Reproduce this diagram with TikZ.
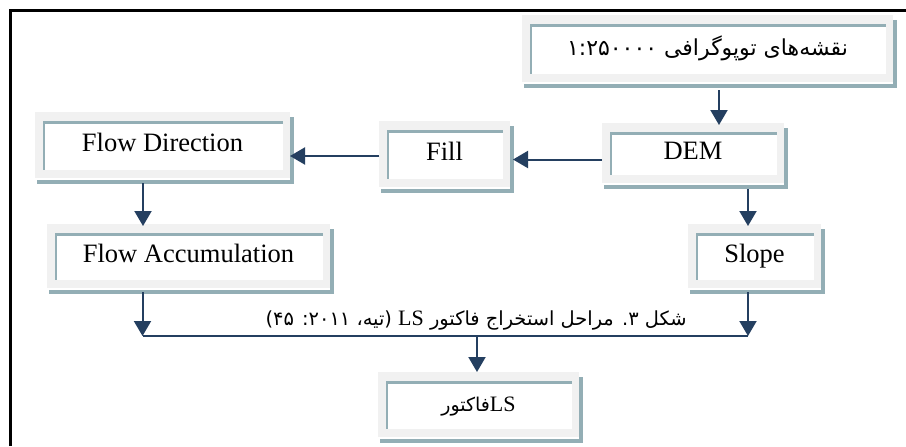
\documentclass[tikz,border=0pt]{standalone}
\usepackage{fontspec}
\setmainfont{Liberation Serif}
\newfontfamily\arabicfont[Script=Arabic]{DejaVu Sans}
\TeXXeTstate=1
\usetikzlibrary{arrows.meta,calc}
\pgfdeclarelayer{background}
\pgfsetlayers{background,main}
\definecolor{frameGray}{HTML}{F1F1F1}
\definecolor{shadeTeal}{HTML}{93AEB5}
\definecolor{arrowNavy}{HTML}{243F60}
\tikzset{
  framebox/.style={rectangle, fill=frameGray, inner sep=0pt, outer sep=0pt,
    font=\fontsize{13.25pt}{15pt}\selectfont, text height=0.68em, text depth=0pt,
    path picture={
      \fill[white] ([xshift=4pt,yshift=-4.5pt]path picture bounding box.north west)
        rectangle ([xshift=-3.5pt,yshift=4pt]path picture bounding box.south east);
      \fill[shadeTeal] ([xshift=4pt,yshift=-4.5pt]path picture bounding box.north west)
        rectangle ([xshift=-3.5pt,yshift=-6pt]path picture bounding box.north east);
      \fill[shadeTeal] ([xshift=4pt,yshift=-4.5pt]path picture bounding box.north west)
        rectangle ([xshift=5pt,yshift=4pt]path picture bounding box.south west);
    }},
  arr/.style={draw=arrowNavy, line width=1pt, -{Triangle[width=8.5pt,length=7.5pt]}, fill=arrowNavy},
  plainline/.style={draw=arrowNavy, line width=1pt},
  caption/.style={inner sep=0pt, font=\fontsize{9.7pt}{12pt}\selectfont}
}
\begin{document}
\begin{tikzpicture}[x=0.5pt,y=-0.5pt]
\useasboundingbox (0,0) rectangle (906,446);

\node[framebox, minimum width=185.5pt, minimum height=33.5pt] (topo) at (707.5,48.5)
  {\fontsize{11pt}{13pt}\arabicfont\beginR نقشه‌های توپوگرافی ۱:۲۵۰۰۰۰\endR};
\node[framebox, minimum width=91pt, minimum height=30pt] (dem) at (693,153) {DEM};
\node[framebox, minimum width=65.5pt, minimum height=33pt] (fillbox) at (444.5,154) {Fill};
\node[framebox, minimum width=127.5pt, minimum height=33pt] (flowdir) at (162.5,145) {Flow Direction};
\node[framebox, minimum width=141.5pt, minimum height=32pt] (flowacc) at (188.5,256) {Flow Accumulation};
\node[framebox, minimum width=66.5pt, minimum height=32pt] (slope) at (754.5,256) {Slope};
\node[framebox, minimum width=100.5pt, minimum height=32.5pt] (ls) at (478.5,404.5)
  {{\fontsize{9.5pt}{11pt}\arabicfont\beginR فاکتور\endR}{\fontsize{11pt}{13pt}\selectfont LS}};

\node[caption] (cap) at (476,320)
  {\arabicfont\beginR شکل ۳. مراحل استخراج فاکتور \beginL{\rmfamily\fontsize{11pt}{13pt}\selectfont LS}\endL{} (تیه، ۲۰۱۱: ۴۵)\endR};

\begin{pgfonlayer}{background}
\fill[white] (0,0) rectangle (906,446);
\foreach \n in {topo,dem,fillbox,flowdir,flowacc,slope,ls}{
  \fill[shadeTeal] ([xshift=1pt,yshift=-1pt]\n.south west) rectangle ([xshift=1.75pt,yshift=-2.75pt]\n.south east);
  \fill[shadeTeal] ([yshift=-2.5pt]\n.north east) rectangle ([xshift=1.75pt,yshift=-2.75pt]\n.south east);
}
\end{pgfonlayer}
\draw[black, line width=1.15pt] (10.5,446) -- (10.5,10.5) -- (906,10.5);

\coordinate (jl) at (142.5,336);
\coordinate (jr) at (748,336);
\coordinate (jm) at (477,336);

\draw[arr] ([xshift=5.75pt,yshift=-4pt]topo.south) -- ([xshift=5.75pt,yshift=-1pt]topo.south |- dem.north);
\draw[arr] ([yshift=-3.25pt]dem.west) -- ([xshift=1.5pt,yshift=-3.25pt]dem.west -| fillbox.east);
\draw[arr] ([yshift=-1pt]fillbox.west) -- ([yshift=-1pt]fillbox.west -| flowdir.east);
\draw[arr] ([xshift=-9.75pt,yshift=-2.5pt]flowdir.south) -- ([xshift=-9.75pt,yshift=-1pt]flowdir.south |- flowacc.north);
\draw[arr] ([xshift=27.5pt,yshift=-3pt]dem.south) -- ([xshift=27.5pt,yshift=-1pt]dem.south |- slope.north);
\draw[arr] ([xshift=-23pt,yshift=-2pt]flowacc.south) -- (jl);
\draw[arr] ([xshift=-3.25pt,yshift=-2pt]slope.south) -- (jr);
\draw[plainline] (jl) -- (jr);
\draw[arr] (jm) -- (jm |- ls.north);
\end{tikzpicture}
\end{document}
